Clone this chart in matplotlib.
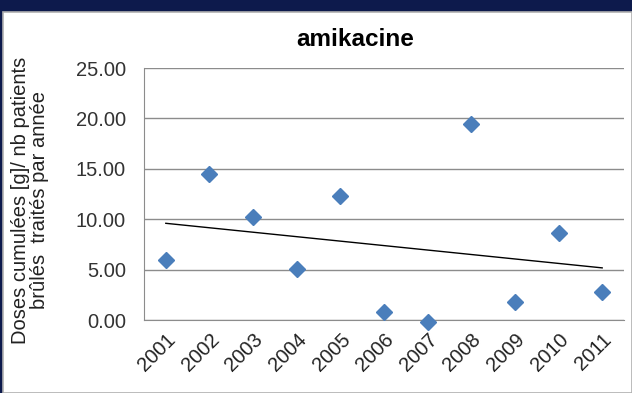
import numpy as np
import matplotlib.pyplot as plt
from matplotlib.patches import Rectangle

plt.rcParams['font.family'] = ['Liberation Sans', 'DejaVu Sans']

years = ['2001', '2002', '2003', '2004', '2005', '2006',
         '2007', '2008', '2009', '2010', '2011']
doses = [5.95, 14.5, 10.2, 5.06, 12.3, 0.8, -0.15, 19.44, 1.75, 8.6, 2.75]
yticks = [0, 5, 10, 15, 20, 25]

x = np.arange(1, len(years) + 1)
y = np.array(doses)

fig = plt.figure(figsize=(6.32, 3.93), dpi=100, facecolor='#0d1a4c')
# white panel inside the dark frame
fig.patches.append(Rectangle((3 / 632, 0), 1 - 3 / 632, 1 - 12 / 393,
                             transform=fig.transFigure, facecolor='white',
                             edgecolor='#b0b0b0', linewidth=1.2, zorder=-10))

ax = fig.add_axes([144 / 632, 1 - 320 / 393, 480 / 632, 252 / 393])
ax.set_facecolor('white')

ax.plot(x, y, linestyle='none', marker='D', markersize=8.5,
        color='#4a7ebb', zorder=3, clip_on=False)

# linear trend line
m, c = np.polyfit(x, y, 1)
ax.plot(x, m * x + c, color='black', linewidth=1.0, zorder=2)

ax.set_xlim(0.5, 11.5)
ax.set_ylim(0, 25)
ax.set_yticks(yticks)
ax.set_yticklabels(['{:.2f}'.format(v) for v in yticks], fontsize=14.5, color='#333333')
ax.set_xticks(x)
ax.set_xticklabels(years, rotation=45, ha='right', va='top',
                   rotation_mode='anchor', fontsize=14.5, color='#222222')
ax.tick_params(axis='y', length=0, pad=13)
ax.tick_params(axis='x', length=0, pad=7)

ax.grid(axis='y', color='#8c8c8c', linewidth=1.0)
ax.set_axisbelow(True)
for side in ['top', 'right']:
    ax.spines[side].set_visible(False)
ax.spines['left'].set_color('#8c8c8c')
ax.spines['bottom'].set_color('#8c8c8c')

fig.text(355 / 632, 1 - 40 / 393, 'amikacine', fontsize=17.5,
         fontweight='bold', ha='center', va='center')
ax.set_ylabel('Doses cumulées [g]/ nb patients\nbrûlés  traités par année',
              fontsize=14.5, color='#222222', linespacing=1.0)
ax.yaxis.set_label_coords(-0.2375, 0.476)
ax.yaxis.label.set_va('center')

fig.savefig('out.png', dpi=100, facecolor=fig.get_facecolor())
